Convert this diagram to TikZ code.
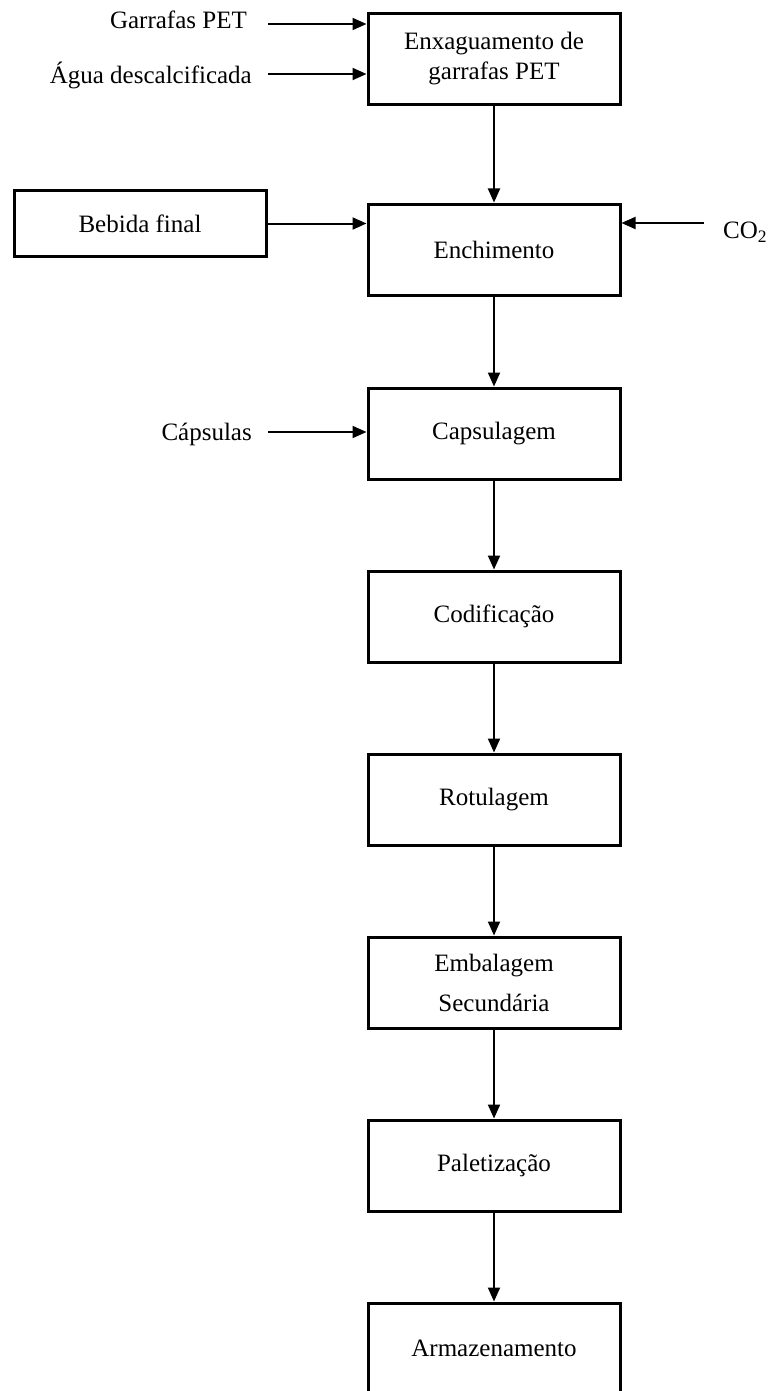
\documentclass[tikz,border=0pt]{standalone}
\usepackage{fontspec}
\setmainfont{Liberation Serif}
\usetikzlibrary{arrows.meta}
\begin{document}
\begin{tikzpicture}[x=1pt,y=-1pt,
  stage/.style={draw,line width=3pt,minimum width=252pt,minimum height=91pt,
    align=center,inner sep=0pt,font=\fontsize{25}{40}\selectfont},
  src/.style={draw,line width=3pt,minimum width=252pt,minimum height=65pt,
    align=center,inner sep=0pt,font=\fontsize{25}{40}\selectfont},
  lbl/.style={anchor=east,inner sep=0pt,font=\fontsize{25}{30}\selectfont},
  flow/.style={line width=2pt,-{Triangle[length=14pt,width=12pt]}}]
\useasboundingbox (0,0) rectangle (768,1391);
\clip (0,0) rectangle (768,1391);
% main process chain
\node[stage,font=\fontsize{25}{30}\selectfont] (s1) at (494,59) {Enxaguamento de\\garrafas PET};
\node[stage] (s2) at (494,249.5) {Enchimento};
\node[stage] (s3) at (494,433.5) {Capsulagem};
\node[stage] (s4) at (494,616.5) {Codificação};
\node[stage] (s5) at (494,799.5) {Rotulagem};
\node[stage] (s6) at (494,982.5) {Embalagem\\Secundária};
\node[stage] (s7) at (494,1165.5) {Paletização};
\node[stage] (s8) at (494,1348.5) {Armazenamento};
% inputs
\node[src] (bf) at (140,223.5) {Bebida final};
\node[lbl] (gp) at (247,20) {Garrafas PET};
\node[lbl] (ag) at (252,75) {Água descalcificada};
\node[lbl] (cp) at (252,434) {Cápsulas};
\node[anchor=west,inner sep=0pt,font=\fontsize{25}{30}\selectfont] (co) at (723,232) {CO\textsubscript{2}};
\coordinate (gpe) at (268,24);
\coordinate (age) at (268,74);
\coordinate (cpe) at (268,432);
\coordinate (coe) at (704,223);
% connectors
\draw[flow] (gpe) -- (gpe -| s1.west);
\draw[flow] (age) -- (age -| s1.west);
\draw[flow] (bf.east) -- (bf.east -| s2.west);
\draw[flow] (coe) -- (coe -| s2.east);
\draw[flow] (cpe) -- (cpe -| s3.west);
\foreach \a/\b in {s1/s2,s2/s3,s3/s4,s4/s5,s5/s6,s6/s7,s7/s8}
  \draw[flow] (\a.south) -- (\b.north);
\end{tikzpicture}
\end{document}
